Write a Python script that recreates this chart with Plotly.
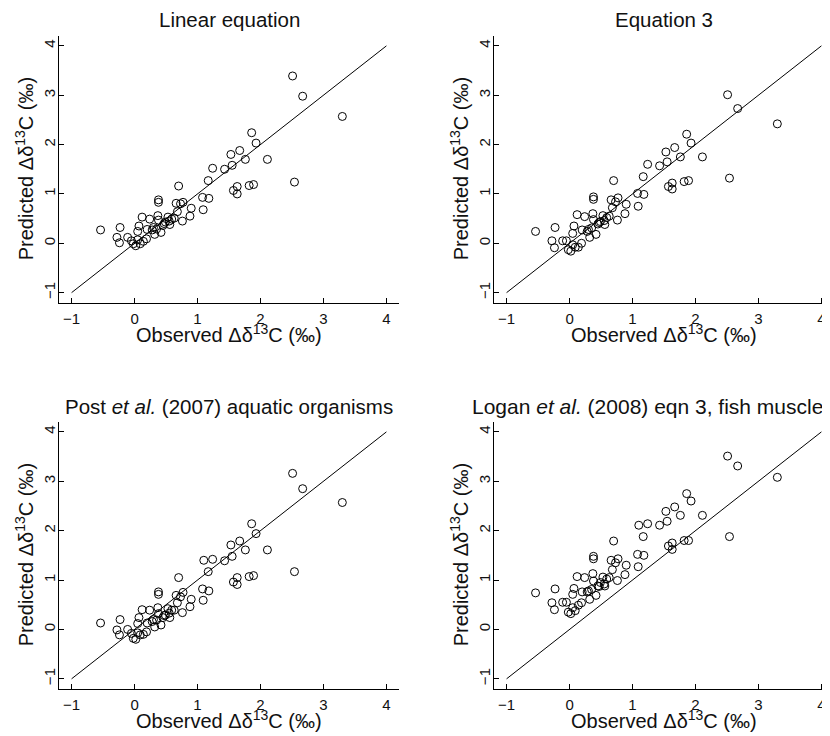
import plotly.graph_objects as go

# Observed values (shared across panels)
observed = [-0.54, -0.23, -0.28, -0.24, -0.11, -0.05, -0.02, 0.02, 0.05, 0.05,
            0.07, 0.12, 0.09, 0.14, 0.19, 0.20, 0.24, 0.28, 0.32, 0.35,
            0.37, 0.38, 0.38, 0.38, 0.42, 0.45, 0.49, 0.53, 0.56, 0.59,
            0.63, 0.66, 0.68, 0.70, 0.73, 0.77, 0.76, 0.88, 0.90, 1.09,
            1.08, 1.18, 1.17, 1.24, 1.43, 1.55, 1.53, 1.67, 1.76, 1.57,
            1.63, 1.63, 1.82, 1.89, 1.86, 1.93, 2.11, 2.51, 2.67, 2.54,
            3.30, 1.10, 0.30, 0.55, 0.47]

pred_linear = [0.27, 0.32, 0.12, 0.01, 0.12, 0.05, -0.01, -0.05, 0.07, 0.24,
               0.35, 0.53, -0.01, 0.04, 0.09, 0.28, 0.49, 0.27, 0.18, 0.29,
               0.56, 0.47, 0.88, 0.83, 0.22, 0.36, 0.43, 0.53, 0.38, 0.49,
               0.51, 0.81, 0.64, 1.16, 0.80, 0.83, 0.45, 0.55, 0.71, 0.68,
               0.93, 0.91, 1.27, 1.52, 1.50, 1.58, 1.80, 1.88, 1.70, 1.07,
               1.15, 1.00, 1.17, 1.19, 2.24, 2.03, 1.70, 3.39, 2.98, 1.24,
               2.57, None, 0.32, 0.45, 0.40]

pred_eq3 = [0.24, 0.32, 0.05, -0.09, 0.05, 0.05, -0.13, -0.16, -0.03, 0.20,
            0.35, 0.58, -0.08, -0.08, 0.00, 0.27, 0.54, 0.24, 0.12, 0.31,
            0.60, 0.48, 0.94, 0.89, 0.18, 0.39, 0.44, 0.56, 0.38, 0.52,
            0.55, 0.88, 0.72, 1.27, 0.84, 0.92, 0.47, 0.60, 0.79, 0.75,
            1.01, 0.99, 1.35, 1.60, 1.57, 1.65, 1.85, 1.94, 1.75, 1.15,
            1.22, 1.10, 1.25, 1.27, 2.21, 2.03, 1.75, 3.01, 2.73, 1.32,
            2.42, None, 0.28, 0.46, 0.42]

pred_post = [0.13, 0.20, -0.01, -0.11, 0.00, -0.08, -0.18, -0.20, -0.07, 0.12,
             0.24, 0.40, -0.11, -0.10, -0.05, 0.13, 0.39, 0.16, 0.05, 0.19,
             0.44, 0.32, 0.76, 0.71, 0.09, 0.24, 0.29, 0.42, 0.24, 0.39,
             0.39, 0.69, 0.54, 1.05, 0.66, 0.75, 0.34, 0.46, 0.61, 0.59,
             0.82, 0.78, 1.17, 1.42, 1.39, 1.48, 1.71, 1.79, 1.61, 0.96,
             1.05, 0.91, 1.07, 1.09, 2.14, 1.94, 1.61, 3.16, 2.85, 1.17,
             2.57, 1.40, 0.20, 0.33, 0.28]

pred_logan = [0.74, 0.82, 0.54, 0.40, 0.55, 0.55, 0.35, 0.32, 0.44, 0.71,
              0.83, 1.07, 0.38, 0.49, 0.54, 0.76, 1.05, 0.76, 0.61, 0.81,
              1.13, 0.98, 1.48, 1.43, 0.69, 0.88, 0.95, 1.06, 0.88, 1.02,
              1.05, 1.40, 1.21, 1.79, 1.35, 1.43, 0.99, 1.11, 1.30, 1.27,
              1.52, 1.50, 1.88, 2.14, 2.11, 2.19, 2.39, 2.48, 2.31, 1.69,
              1.75, 1.62, 1.80, 1.80, 2.75, 2.60, 2.31, 3.51, 3.31, 1.88,
              3.08, 2.11, 0.78, 0.92, 0.87]

titles = ["Linear equation", "Equation 3",
          "Post <i>et al.</i> (2007) aquatic organisms",
          "Logan <i>et al.</i> (2008) eqn 3, fish muscle"]
preds = [pred_linear, pred_eq3, pred_post, pred_logan]
one_to_one = [-1, 4]
tick_vals = [-1, 0, 1, 2, 3, 4]
tick_text = ["\u22121", "0", "1", "2", "3", "4"]

W, H = 830, 736
OFF = 8  # the page's default body margin shifts the figure by 8 px
FONT = "Liberation Sans, Arial, Helvetica, sans-serif"

# page-pixel layout of each panel: (left, right, top, bottom)
panels = [
    (59, 399, 36, 302.5),
    (494, 834, 36, 302.5),
    (59, 399, 422, 688.7),
    (494, 834, 422, 688.7),
]

fig = go.Figure()
annotations = []
for i, (pred, title, (l, r, t, b)) in enumerate(zip(preds, titles, panels)):
    l, r, t, b = l - OFF, r - OFF, t - OFF, b - OFF
    n = "" if i == 0 else str(i + 1)
    xa, ya = "x" + n, "y" + n
    fig.add_trace(go.Scatter(x=one_to_one, y=one_to_one, mode="lines",
                             line=dict(color="black", width=1),
                             xaxis=xa, yaxis=ya, showlegend=False, hoverinfo="skip"))
    fig.add_trace(go.Scatter(x=observed, y=pred, mode="markers",
                             marker=dict(symbol="circle-open", size=8,
                                         color="black", line=dict(width=1)),
                             xaxis=xa, yaxis=ya, showlegend=False))
    common = dict(showgrid=False, zeroline=False, showline=True, linecolor="black",
                  linewidth=1, ticks="inside", ticklen=5, tickwidth=1, tickcolor="black",
                  tickvals=tick_vals, ticktext=tick_text, automargin=False,
                  tickfont=dict(family=FONT, size=15, color="#111"))
    fig.update_layout(**{
        "xaxis" + n: dict(domain=[l / W, r / W], range=[-1.2, 4.2], anchor=ya,
                          ticklabelstandoff=2, **common),
        "yaxis" + n: dict(domain=[1 - b / H, 1 - t / H], range=[-1.2, 4.2], anchor=xa,
                          tickangle=-90, ticklabelstandoff=-3, **common),
    })
    cx = (l + r) / 2
    if i == 3:
        tpos = dict(x=(470 - OFF) / W, xanchor="left")
        tsize = 21
    else:
        tpos = dict(x=cx / W, xanchor="center")
        tsize = 20.5
    annotations.append(dict(text=title, y=1 - (t - 16) / H, xref="paper", yref="paper",
                            yanchor="middle", showarrow=False,
                            font=dict(family=FONT, size=tsize, color="#111"), **tpos))
    annotations.append(dict(text="Observed \u0394\u03b4<sup>13</sup>C (\u2030)",
                            x=cx / W, y=1 - (b + 31) / H, xref="paper", yref="paper",
                            xanchor="center", yanchor="middle", showarrow=False,
                            font=dict(family=FONT, size=20, color="#111")))
    annotations.append(dict(text="Predicted \u0394\u03b4<sup>13</sup>C (\u2030)",
                            x=(l - 35) / W, y=1 - ((t + b) / 2) / H, xref="paper", yref="paper",
                            xanchor="center", yanchor="middle", showarrow=False, textangle=-90,
                            font=dict(family=FONT, size=20, color="#111")))

fig.update_layout(width=W, height=H, margin=dict(l=0, r=0, t=0, b=0),
                  paper_bgcolor="white", plot_bgcolor="white",
                  annotations=annotations)
fig.write_html("out.html")
